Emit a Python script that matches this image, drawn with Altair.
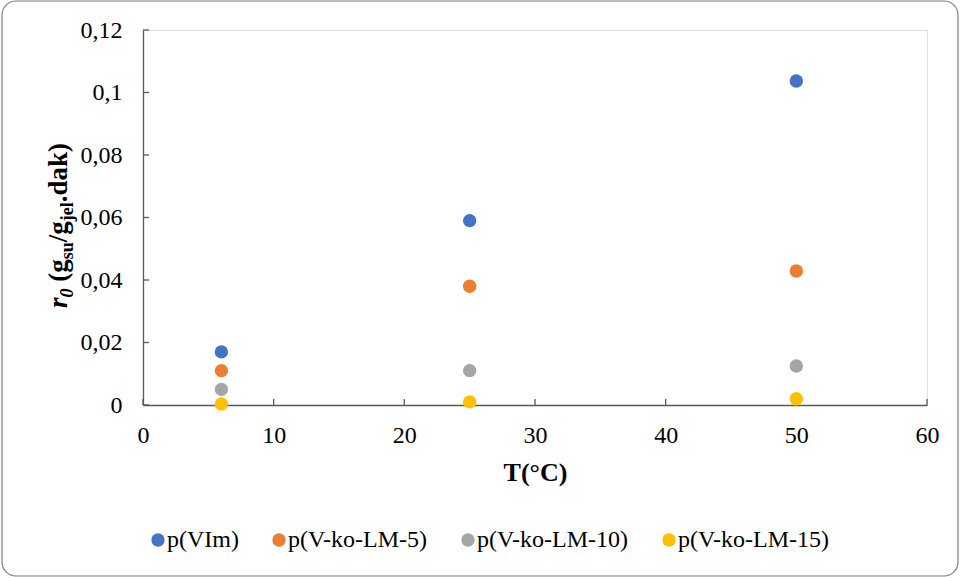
import altair as alt
import pandas as pd

# ---- data ----
temps = [6, 25, 50]
series = ["p(VIm)", "p(V-ko-LM-5)", "p(V-ko-LM-10)", "p(V-ko-LM-15)"]
vim = [0.017, 0.059, 0.1037]
lm5 = [0.011, 0.038, 0.0429]
lm10 = [0.005, 0.011, 0.0125]
lm15 = [0.0003, 0.001, 0.002]
colors = ["#4472C4", "#ED7D31", "#A5A5A5", "#FFC000"]
x_ticks = [0, 10, 20, 30, 40, 50, 60]
y_ticks = [0, 0.02, 0.04, 0.06, 0.08, 0.1, 0.12]

rows = []
for name, vals in zip(series, [vim, lm5, lm10, lm15]):
    for t, v in zip(temps, vals):
        rows.append({"T": t, "r": v, "series": name})
df = pd.DataFrame(rows)

W, H = 784, 375
FONT = "Liberation Serif"
AXIS_COLOR = "#595959"

xscale = alt.Scale(domain=[0, 60], nice=False, zero=False)
yscale = alt.Scale(domain=[0, 0.12], nice=False)

xaxis = alt.Axis(values=x_ticks, title="T(°C)", ticks=False, grid=False,
                 labelFontSize=24, labelPadding=18, labelColor="#000", labelFlush=False,
                 titleFontSize=26, titleFontWeight="bold", titleColor="#000",
                 titleBaseline="alphabetic", titleY=75,
                 domainColor=AXIS_COLOR, domainWidth=1.3, labelFont=FONT, titleFont=FONT)
yaxis = alt.Axis(values=y_ticks, title=None, ticks=False, grid=False,
                 labelFontSize=24, labelPadding=21, labelColor="#000", labelFlush=False,
                 labelExpr="replace(format(datum.value, '.2~f'), '.', ',')",
                 domainColor=AXIS_COLOR, domainWidth=1.3, labelFont=FONT)

points = alt.Chart(df).mark_circle(size=180, opacity=1).encode(
    x=alt.X("T:Q", scale=xscale, axis=xaxis),
    y=alt.Y("r:Q", scale=yscale, axis=yaxis),
    color=alt.Color("series:N", scale=alt.Scale(domain=series, range=colors),
                    legend=alt.Legend(orient="none", direction="horizontal", columns=4,
                                      legendX=3, legendY=498, title=None,
                                      labelFontSize=24, labelFont=FONT, labelColor="#000",
                                      symbolType="circle", symbolSize=180,
                                      symbolStrokeWidth=0, labelOffset={"expr": "-3"},
                                      columnPadding=28, padding=0, labelLimit=400)),
)

xt = alt.Chart(pd.DataFrame({"T": x_ticks})).mark_rule(color=AXIS_COLOR, strokeWidth=1.3).encode(
    x=alt.X("T:Q", scale=xscale, axis=xaxis),
    y=alt.value(H), y2=alt.value(H - 6),
)
yt = alt.Chart(pd.DataFrame({"r": y_ticks})).mark_rule(color=AXIS_COLOR, strokeWidth=1.3).encode(
    y=alt.Y("r:Q", scale=yscale, axis=yaxis),
    x=alt.value(0), x2=alt.value(6),
)

border = alt.Chart(pd.DataFrame({"a": [0]})).mark_rect(
    fill="transparent", stroke="#7F7F7F", strokeWidth=1.2, cornerRadius=14
).encode(x=alt.value(-141), x2=alt.value(815), y=alt.value(-29), y2=alt.value(546))

# y-axis title built from pieces (main text + subscripts), rotated
F, S = 27, 18
# (text, font size, style, baseline shift, advance in em before, advance in em of text)
pieces = [
    ("r", F, "italic", 0, 0.0, 0.389),
    ("0", S, "italic", 6, 0.0, 0.5),
    ("(g", F, "normal", 0, 0.25, 0.333 + 0.5),
    ("su", S, "normal", 6, 0.0, 0.389 + 0.556),
    ("/g", F, "normal", 0, 0.0, 0.278 + 0.5),
    ("jel", S, "normal", 6, 0.0, 0.333 + 0.444 + 0.278),
    (".dak)", F, "normal", 0, 0.0, 0.25 + 0.556 + 0.5 + 0.556 + 0.333),
]
title_layers = []
pos = 278
base_x = -76
for txt, fs, style, shift, pre, em in pieces:
    pos -= pre * F
    title_layers.append(
        alt.Chart(pd.DataFrame({"a": [0]})).mark_text(
            text=txt, font=FONT, fontSize=fs, fontWeight="bold", fontStyle=style,
            angle=270, align="left", baseline="alphabetic", color="#000"
        ).encode(x=alt.value(base_x + shift), y=alt.value(pos))
    )
    pos -= em * fs

chart = alt.layer(border, xt, yt, points, *title_layers).properties(
    width=W, height=H,
    padding={"left": 143, "top": 30, "right": 34, "bottom": 173},
    autosize=alt.AutoSizeParams(type="none"),
    background="white",
).configure_view(stroke=None).configure(font=FONT)

chart.save("out.html", embed_options={"renderer": "svg", "actions": False})
